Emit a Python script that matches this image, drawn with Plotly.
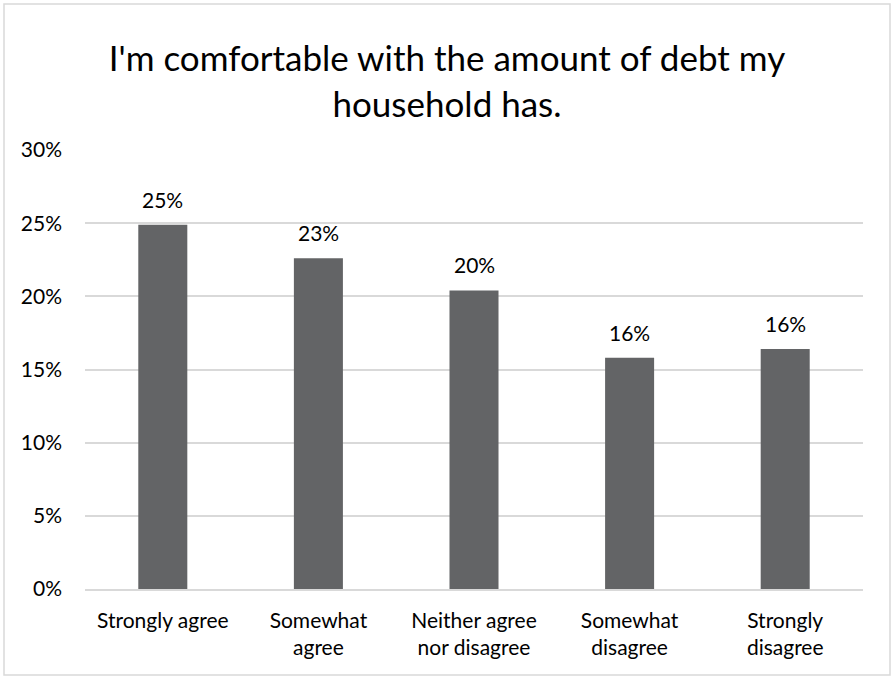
import plotly.graph_objects as go

# Survey responses
categories = ["Strongly agree", "Somewhat<br>agree", "Neither agree<br>nor disagree",
              "Somewhat<br>disagree", "Strongly<br>disagree"]
shares = [0.249, 0.226, 0.204, 0.158, 0.164]
tick_values = [0, 0.05, 0.10, 0.15, 0.20, 0.25, 0.30]

FONT = "Lato"
W, H = 894, 679
L, R, T, B = 85, 31, 150, 90

fig = go.Figure(
    go.Bar(
        x=categories,
        y=shares,
        marker=dict(color="#636466", line=dict(width=0)),
        hoverinfo="skip",
    )
)

# Value labels above each bar
for cat, val in zip(categories, shares):
    fig.add_annotation(
        x=cat, y=val, text=f"{val:.0%}", showarrow=False,
        yanchor="bottom", yshift=11,
        font=dict(family=FONT, size=21, color="#000000"),
    )

# Thin frame around the whole chart
pw, ph = W - L - R, H - T - B
fig.add_shape(
    type="rect", xref="paper", yref="paper",
    x0=(4 - L) / pw, x1=(890 - L) / pw,
    y0=-(B - 4) / ph, y1=1 + (T - 4) / ph,
    line=dict(color="#d9d9d9", width=1.5), fillcolor="rgba(0,0,0,0)",
    layer="below",
)

fig.update_layout(
    width=W, height=H,
    margin=dict(l=L, r=R, t=T, b=B),
    paper_bgcolor="white", plot_bgcolor="white",
    bargap=0.685,
    showlegend=False,
    title=dict(
        text="I'm comfortable with the amount of debt my<br>household has.",
        x=0.5, xanchor="center", xref="container",
        y=1 - 71 / H, yanchor="middle", yref="container",
        font=dict(family=FONT, size=35, color="#000000"),
    ),
    font=dict(family=FONT, size=21, color="#000000"),
)
fig.update_xaxes(
    showgrid=False, showline=True, linecolor="#d9d9d9", linewidth=1.5,
    ticks="", ticklabelstandoff=12,
    tickfont=dict(family=FONT, size=21, color="#000000"),
    fixedrange=True,
)
fig.update_yaxes(
    range=[0, 0.30], tickvals=tick_values, tickformat=".0%",
    showgrid=True, gridcolor="#d9d9d9", gridwidth=1.5,
    zeroline=False, showline=False, ticks="",
    ticklabelstandoff=22,
    tickfont=dict(family=FONT, size=21, color="#000000"),
    fixedrange=True,
)

fig.write_html("out.html")
